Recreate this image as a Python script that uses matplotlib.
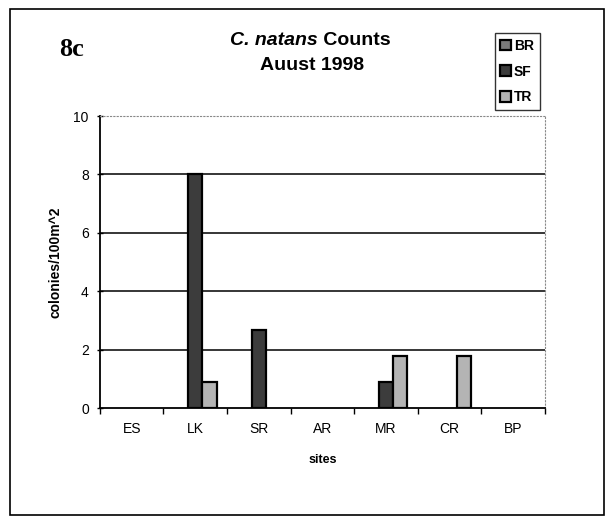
import numpy as np
from matplotlib import pyplot as plt
from matplotlib.patches import Rectangle

sites = ['ES', 'LK', 'SR', 'AR', 'MR', 'CR', 'BP']
br_vals = [0, 0, 0, 0, 0, 0, 0]
sf_vals = [0, 8.0, 2.67, 0, 0.89, 0, 0]
tr_vals = [0, 0.89, 0, 0, 1.78, 1.78, 0]

series = [('BR', br_vals, '#7a7a7a'),
          ('SF', sf_vals, '#3c3c3c'),
          ('TR', tr_vals, '#b4b4b4')]

plt.rcParams['font.family'] = ['Liberation Sans', 'DejaVu Sans']

fig = plt.figure(figsize=(6.09, 5.18), dpi=100)
ax = fig.add_axes([0.164, 0.212, 0.731, 0.564])

x = np.arange(len(sites))
w = 0.223
for k, (name, vals, col) in enumerate(series):
    vals = np.array(vals, dtype=float)
    ax.bar(x + (k - 1) * w, np.where(vals > 0, vals, np.nan), w, color=col,
           edgecolor='black', linewidth=1.6, label=name, zorder=3)

ax.set_xlim(-0.5, len(sites) - 0.5)
ax.set_ylim(0, 10)
ax.set_yticks([0, 2, 4, 6, 8, 10])
ax.set_xticks(x)
ax.set_xticklabels(sites, fontsize=10)
ax.tick_params(axis='x', which='major', length=0, pad=10)
ax.set_xticks(np.arange(len(sites) + 1) - 0.5, minor=True)
ax.tick_params(axis='x', which='minor', length=4, direction='out', width=1)
ax.tick_params(axis='y', length=4, direction='inout', width=1, labelsize=10, pad=6)

for v in [2, 4, 6, 8]:
    ax.axhline(v, color='black', linewidth=1.1, zorder=1)

ax.spines['left'].set_linewidth(1.3)
ax.spines['bottom'].set_linewidth(1.3)
for s in ['top', 'right']:
    ax.spines[s].set_linestyle((0, (1, 2)))
    ax.spines[s].set_color('#888888')
    ax.spines[s].set_linewidth(0.8)

ax.set_xlabel('sites', fontsize=9, fontweight='bold', labelpad=13)
ax.set_ylabel('colonies/100m^2', fontsize=10, fontweight='bold', labelpad=8)

# title: italic part + plain bold part
fig.text(0.522, 0.922, 'C. natans', ha='right', va='center',
         fontsize=14, fontweight='bold', fontstyle='italic')
fig.text(0.522, 0.922, ' Counts', ha='left', va='center',
         fontsize=14, fontweight='bold')
fig.text(0.512, 0.874, 'Auust 1998', ha='center', va='center',
         fontsize=14, fontweight='bold')
fig.text(0.097, 0.905, '8c', ha='left', va='center', fontsize=19,
         fontweight='bold', family='Liberation Serif')

leg = ax.legend(loc='upper left', bbox_to_anchor=(0.812, 0.936),
                bbox_transform=fig.transFigure, fontsize=10, frameon=True,
                fancybox=False, handlelength=0.8, handleheight=0.8,
                handletextpad=0.2, labelspacing=0.85, borderpad=0.4,
                borderaxespad=0)
leg.get_frame().set_edgecolor('black')
leg.get_frame().set_linewidth(1.0)
for t in leg.get_texts():
    t.set_fontweight('bold')

fig.patches.append(Rectangle((0.017, 0.006), 0.975, 0.977, transform=fig.transFigure,
                             fill=False, edgecolor='black', linewidth=1.2))

fig.savefig('out.png', dpi=100)
